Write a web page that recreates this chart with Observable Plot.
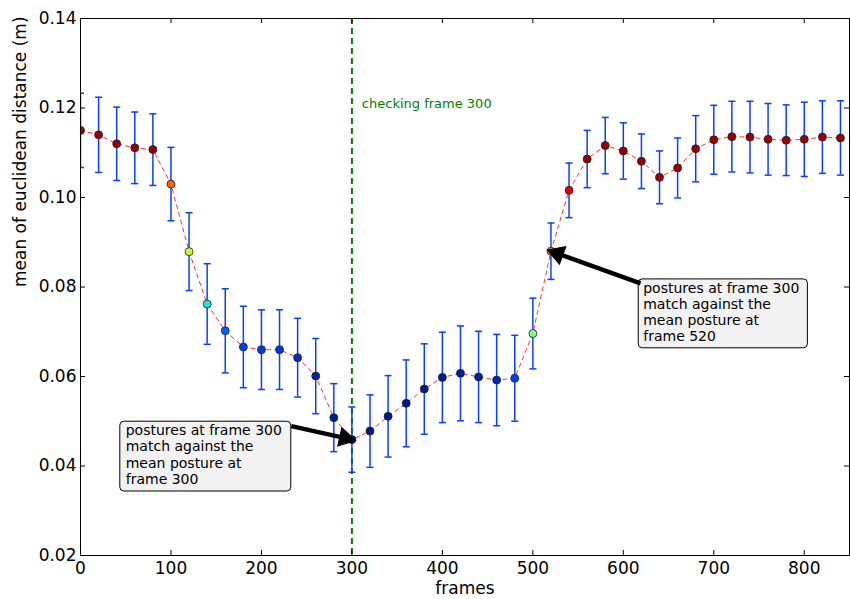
<!DOCTYPE html>
<html>
<head>
<meta charset="utf-8">
<script src="https://cdn.jsdelivr.net/npm/d3@7"></script>
<script src="https://cdn.jsdelivr.net/npm/@observablehq/plot@0.6"></script>
<style>
  body { margin: 0; background: #fff; }
  #chart svg { font-family: "DejaVu Sans", sans-serif; }
</style>
</head>
<body>
<div id="chart"></div>
<script>
const frames = [0,20,40,60,80,100,120,140,160,180,200,220,240,260,280,300,320,340,360,380,400,420,440,460,480,500,520,540,560,580,600,620,640,660,680,700,720,740,760,780,800,820,840];
const means = [0.1150,0.1140,0.1120,0.1111,0.1107,0.1030,0.0879,0.0762,0.0702,0.0666,0.0660,0.0660,0.0642,0.0601,0.0508,0.0459,0.0478,0.0511,0.0540,0.0572,0.0598,0.0607,0.0599,0.0592,0.0596,0.0696,0.0880,0.1016,0.1086,0.1116,0.1104,0.1081,0.1045,0.1066,0.1109,0.1129,0.1136,0.1135,0.1130,0.1128,0.1130,0.1135,0.1133];
const errs = [0.0083,0.0084,0.0082,0.0080,0.0080,0.0082,0.0087,0.0090,0.0094,0.0091,0.0089,0.0089,0.0088,0.0084,0.0076,0.0073,0.0081,0.0091,0.0097,0.0101,0.0101,0.0106,0.0102,0.0102,0.0096,0.0079,0.0063,0.0061,0.0064,0.0063,0.0063,0.0061,0.0059,0.0067,0.0074,0.0077,0.0079,0.0080,0.0080,0.0079,0.0083,0.0081,0.0083];
const pointColors = ["#9a0000","#9a0000","#9a0000","#9a0000","#9a0000","#ff6000","#c8ff30","#26e0d8","#0060ff","#0040f0","#0038e8","#0035e0","#002cc8","#0022b0","#0018a0","#001088","#001888","#001890","#001890","#001890","#001c98","#001c98","#0020a0","#0028b8","#0040f0","#80ff80","#ff8c00","#e80000","#9a0000","#9a0000","#9a0000","#9a0000","#9a0000","#9a0000","#9a0000","#9a0000","#9a0000","#9a0000","#9a0000","#9a0000","#9a0000","#9a0000","#9a0000"];

const xTicks = [0,100,200,300,400,500,600,700,800];
const yTicks = [0.02,0.04,0.06,0.08,0.10,0.12,0.14];
const checkFrame = 300;
const checkLabel = "checking frame 300";
const checkLabelPos = {x: 311, y: 0.1210};

const annotations = [
  {text: "postures at frame 300\nmatch against the\nmean posture at\nframe 300",
   boxX1: 44, boxX2: 233, boxY1: 0.0343, boxY2: 0.0499, textX: 50, textY: 0.0494,
   fromX: 233, fromY: 0.0489, toX: 300, toY: 0.0459},
  {text: "postures at frame 300\nmatch against the\nmean posture at\nframe 520",
   boxX1: 617, boxX2: 804, boxY1: 0.0663, boxY2: 0.0817, textX: 622, textY: 0.0812,
   fromX: 619, fromY: 0.0808, toX: 520, toY: 0.0880}
];

const data = frames.map((f, i) => ({f, m: means[i], e: errs[i], c: pointColors[i]}));

const W = 850, H = 599, ML = 80, MR = 1, MT = 18, MB = 44;
const fw = W - ML - MR, fh = H - MT - MB;
const pxPerX = fw / 850, pxPerY = fh / 0.12;
const barColor = "#0b3fff";
const capHalf = 3.9;

// arrow heads: filled triangles placed just before each arrow's tip
const headBack = 7; // px
const heads = annotations.map(a => {
  const dxp = (a.toX - a.fromX) * pxPerX, dyp = -(a.toY - a.fromY) * pxPerY;
  const len = Math.hypot(dxp, dyp), ux = dxp / len, uy = dyp / len;
  return {
    x: a.toX - ux * headBack / pxPerX,
    y: a.toY + uy * headBack / pxPerY,
    angle: Math.atan2(ux, -uy) * 180 / Math.PI,
    sx: a.fromX, sy: a.fromY,
    ex: a.toX - ux * (headBack + 2) / pxPerX,
    ey: a.toY + uy * (headBack + 2) / pxPerY
  };
});

const chart = Plot.plot({
  width: W, height: H,
  marginLeft: ML, marginRight: MR, marginTop: MT, marginBottom: MB,
  style: {fontFamily: "DejaVu Sans, sans-serif", background: "white"},
  x: {domain: [0, 850]},
  y: {domain: [0.02, 0.14]},
  marks: [
    Plot.ruleX([checkFrame], {stroke: "#008000", strokeWidth: 2, strokeDasharray: "6,4"}),
    Plot.text([checkLabel], {x: checkLabelPos.x, y: checkLabelPos.y, text: d => d, fill: "#008000", fontSize: 13, textAnchor: "start"}),
    Plot.ruleX(data, {x: "f", y1: d => d.m - d.e, y2: d => d.m + d.e, stroke: barColor, strokeWidth: 1.5, clip: true}),
    Plot.link(data, {x1: d => d.f - capHalf, x2: d => d.f + capHalf, y1: d => d.m + d.e, y2: d => d.m + d.e, stroke: barColor, strokeWidth: 1.5, clip: true}),
    Plot.link(data, {x1: d => d.f - capHalf, x2: d => d.f + capHalf, y1: d => d.m - d.e, y2: d => d.m - d.e, stroke: barColor, strokeWidth: 1.5, clip: true}),
    Plot.line(data, {x: "f", y: "m", stroke: "#ff3333", strokeWidth: 1, strokeDasharray: "4,4", clip: true}),
    Plot.dot(data, {x: "f", y: "m", r: 4, fill: "c", stroke: "#222", strokeWidth: 0.8, clip: true}),
    Plot.rect(annotations, {x1: "boxX1", x2: "boxX2", y1: "boxY1", y2: "boxY2", fill: "#f2f2f2", stroke: "black", strokeWidth: 1, rx: 4}),
    Plot.text(annotations, {x: "textX", y: "textY", text: "text", textAnchor: "start", lineAnchor: "top", fontSize: 14, lineHeight: 1.15, fill: "black"}),
    Plot.link(heads, {x1: "sx", y1: "sy", x2: "ex", y2: "ey", stroke: "black", strokeWidth: 4.5}),
    Plot.dot(heads, {x: "x", y: "y", symbol: "triangle", rotate: "angle", r: 7, fill: "black", stroke: "black", strokeWidth: 1}),
    Plot.frame({stroke: "black", strokeWidth: 1}),
    Plot.tickX(xTicks, {x: d => d, insetTop: fh - 5, stroke: "black"}),
    Plot.tickX(xTicks, {x: d => d, insetBottom: fh - 5, stroke: "black"}),
    Plot.tickY(yTicks, {y: d => d, insetRight: fw - 5, stroke: "black"}),
    Plot.tickY(yTicks, {y: d => d, insetLeft: fw - 5, stroke: "black"}),
    Plot.axisX(xTicks, {tickSize: 0, tickPadding: 6, fontSize: 17, label: null, tickFormat: d => String(d), fill: "black"}),
    Plot.axisY(yTicks, {tickSize: 0, tickPadding: 4, fontSize: 17, label: null, tickFormat: d3.format(".2f"), fill: "black"}),
    Plot.text(["frames"], {frameAnchor: "bottom", dy: 33, fontSize: 17, fill: "black", lineAnchor: "middle"}),
    Plot.text(["mean of euclidean distance (m)"], {frameAnchor: "left", dx: -60, rotate: -90, fontSize: 17, fill: "black"})
  ]
});
document.getElementById("chart").appendChild(chart);
</script>
</body>
</html>
